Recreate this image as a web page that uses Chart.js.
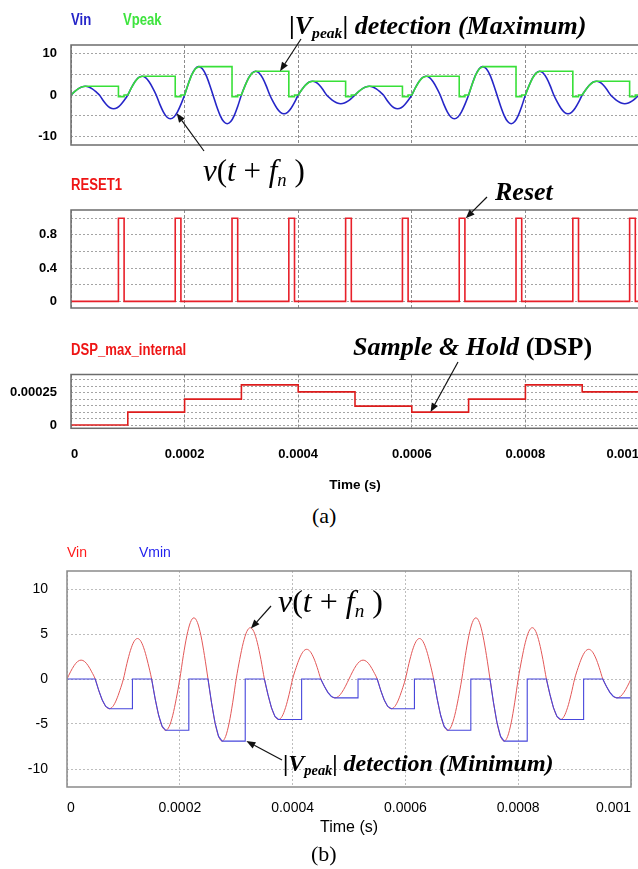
<!DOCTYPE html>
<html>
<head>
<meta charset="utf-8">
<script src="https://cdn.jsdelivr.net/npm/chart.js@4.4.1/dist/chart.umd.min.js"></script>
<style>
html, body { margin: 0; padding: 0; background: #fff; overflow: hidden; width: 638px; height: 869px; }
#page { position: relative; width: 638px; height: 869px; overflow: hidden; }
canvas { position: absolute; left: 0; }
.t { position: absolute; white-space: nowrap; line-height: 1; }
.narrow { font-family: "Liberation Sans", Arial, sans-serif; font-weight: bold; transform: scaleX(0.82); transform-origin: left center; }
.arial { font-family: "Liberation Sans", Arial, sans-serif; }
.serif { font-family: "Liberation Serif", "Times New Roman", serif; }
.ann { font-family: "Liberation Serif", "Times New Roman", serif; font-weight: bold; font-style: italic; }
.ann .up { font-style: normal; }
sub { font-size: 0.6em; vertical-align: -0.25em; }
</style>
</head>
<body>
<div id="page">
  <canvas id="cPeak" width="640" height="160" style="top:0"></canvas>
  <canvas id="cReset" width="640" height="150" style="top:160px"></canvas>
  <canvas id="cDsp" width="640" height="180" style="top:320px"></canvas>
  <canvas id="cMin" width="640" height="330" style="top:530px"></canvas>

  <div class="t narrow" style="left:71px;top:12px;font-size:16px;color:#2424c8">Vin</div>
  <div class="t narrow" style="left:123px;top:12px;font-size:16px;color:#3ee43e">Vpeak</div>
  <div class="t ann" style="left:289px;top:13px;font-size:26px"><span class="up">|</span>V<sub>peak</sub><span class="up">|</span> detection (Maximum)</div>
  <div class="t serif" style="left:203px;top:155px;font-size:31px"><i>v</i>(<i>t</i> + <i>f</i><sub><i>n</i></sub> )</div>

  <div class="t narrow" style="left:71px;top:177px;font-size:16px;color:#ee1515">RESET1</div>
  <div class="t ann" style="left:495px;top:179px;font-size:26px">Reset</div>

  <div class="t narrow" style="left:71px;top:342px;font-size:16px;color:#ee1515">DSP_max_internal</div>
  <div class="t ann" style="left:353px;top:334px;font-size:26px">Sample &amp; Hold <span class="up">(DSP)</span></div>
  <div class="t serif" style="left:312px;top:505px;font-size:22px">(a)</div>

  <div class="t arial" style="left:67px;top:545px;font-size:14px;color:#ff1a1a">Vin</div>
  <div class="t arial" style="left:139px;top:545px;font-size:14px;color:#2222ee">Vmin</div>
  <div class="t serif" style="left:278px;top:585px;font-size:32px"><i>v</i>(<i>t</i> + <i>f</i><sub><i>n</i></sub> )</div>
  <div class="t ann" style="left:283px;top:751px;font-size:24px"><span class="up">|</span>V<sub>peak</sub><span class="up">|</span> detection (Minimum)</div>
  <div class="t serif" style="left:311px;top:843px;font-size:22px">(b)</div>
</div>

<script>
// input voltage, one sample every 6.25 us (0 .. 1 ms)
const sampleStepUs = 6.25
const vinValues = [
  0, 0.80, 1.48, 1.94, 2.10, 1.94, 1.48, 0.80,
  0, -1.26, -2.33, -3.05, -3.30, -3.05, -2.33, -1.26,
  0, 1.72, 3.18, 4.16, 4.50, 4.16, 3.18, 1.72,
  0, -2.18, -4.03, -5.27, -5.70, -5.27, -4.03, -2.18,
  0, 2.60, 4.81, 6.28, 6.80, 6.28, 4.81, 2.60,
  0, -2.64, -4.88, -6.38, -6.90, -6.38, -4.88, -2.64,
  0, 2.18, 4.03, 5.27, 5.70, 5.27, 4.03, 2.18,
  0, -1.72, -3.18, -4.16, -4.50, -4.16, -3.18, -1.72,
  0, 1.26, 2.33, 3.05, 3.30, 3.05, 2.33, 1.26,
  0, -0.80, -1.48, -1.94, -2.10, -1.94, -1.48, -0.80,
  0, 0.80, 1.48, 1.94, 2.10, 1.94, 1.48, 0.80,
  0, -1.26, -2.33, -3.05, -3.30, -3.05, -2.33, -1.26,
  0, 1.72, 3.18, 4.16, 4.50, 4.16, 3.18, 1.72,
  0, -2.18, -4.03, -5.27, -5.70, -5.27, -4.03, -2.18,
  0, 2.60, 4.81, 6.28, 6.80, 6.28, 4.81, 2.60,
  0, -2.64, -4.88, -6.38, -6.90, -6.38, -4.88, -2.64,
  0, 2.18, 4.03, 5.27, 5.70, 5.27, 4.03, 2.18,
  0, -1.72, -3.18, -4.16, -4.50, -4.16, -3.18, -1.72,
  0, 1.26, 2.33, 3.05, 3.30, 3.05, 2.33, 1.26,
  0, -0.80, -1.48, -1.94, -2.10, -1.94, -1.48, -0.80,
  0
]

// Vpeak (maximum detector)
const vpeakTimeUs = [
  0, 6.25, 12.5, 18.75, 25, 83.5, 83.5, 93.5, 93.5,
  100, 106.25, 112.5, 118.75, 125, 183.5, 183.5, 193.5, 193.5,
  200, 206.25, 212.5, 218.75, 225, 283.5, 283.5, 293.5, 293.5,
  300, 306.25, 312.5, 318.75, 325, 383.5, 383.5, 393.5, 393.5,
  400, 406.25, 412.5, 418.75, 425, 483.5, 483.5, 493.5, 493.5,
  500, 506.25, 512.5, 518.75, 525, 583.5, 583.5, 593.5, 593.5,
  600, 606.25, 612.5, 618.75, 625, 683.5, 683.5, 693.5, 693.5,
  700, 706.25, 712.5, 718.75, 725, 783.5, 783.5, 793.5, 793.5,
  800, 806.25, 812.5, 818.75, 825, 883.5, 883.5, 893.5, 893.5,
  900, 906.25, 912.5, 918.75, 925, 983.5, 983.5, 993.5, 993.5,
  1000
]
const vpeakValues = [
  0, 0.80, 1.48, 1.94, 2.10, 2.10, -0.4, -0.4, 0,
  0, 1.72, 3.18, 4.16, 4.50, 4.50, -0.4, -0.4, 0,
  0, 2.60, 4.81, 6.28, 6.80, 6.80, -0.4, -0.4, 0,
  0, 2.18, 4.03, 5.27, 5.70, 5.70, -0.4, -0.4, 0,
  0, 1.26, 2.33, 3.05, 3.30, 3.30, -0.4, -0.4, 0,
  0, 0.80, 1.48, 1.94, 2.10, 2.10, -0.4, -0.4, 0,
  0, 1.72, 3.18, 4.16, 4.50, 4.50, -0.4, -0.4, 0,
  0, 2.60, 4.81, 6.28, 6.80, 6.80, -0.4, -0.4, 0,
  0, 2.18, 4.03, 5.27, 5.70, 5.70, -0.4, -0.4, 0,
  0, 1.26, 2.33, 3.05, 3.30, 3.30, -0.4, -0.4, 0,
  0
]

// RESET1 pulses
const resetRiseUs = [83.5, 183.5, 283.5, 383.5, 483.5, 583.5, 683.5, 783.5, 883.5, 983.5]
const resetFallUs = [93.5, 193.5, 293.5, 393.5, 493.5, 593.5, 693.5, 793.5, 893.5, 993.5]
const resetHigh = 1
const resetLow = 0

// DSP sample & hold
const dspTimeUs = [0, 100, 200, 300, 400, 500, 600, 700, 800, 900, 1000]
const dspValues = [0, 0.0001, 0.0002, 0.00031, 0.000256, 0.000146, 0.0001, 0.0002, 0.00031, 0.000256, 0.000256]

// Vmin (minimum detector), panel (b)
const vminTimeUs = [
  0, 50, 56.25, 62.5, 68.75, 75, 116, 116,
  150, 156.25, 162.5, 168.75, 175, 216, 216,
  250, 256.25, 262.5, 268.75, 275, 316, 316,
  350, 356.25, 362.5, 368.75, 375, 416, 416,
  450, 456.25, 462.5, 468.75, 475, 516, 516,
  550, 556.25, 562.5, 568.75, 575, 616, 616,
  650, 656.25, 662.5, 668.75, 675, 716, 716,
  750, 756.25, 762.5, 768.75, 775, 816, 816,
  850, 856.25, 862.5, 868.75, 875, 916, 916,
  950, 956.25, 962.5, 968.75, 975, 1000
]
const vminValues = [
  0, 0, -1.26, -2.33, -3.05, -3.30, -3.30, 0,
  0, -2.18, -4.03, -5.27, -5.70, -5.70, 0,
  0, -2.64, -4.88, -6.38, -6.90, -6.90, 0,
  0, -1.72, -3.18, -4.16, -4.50, -4.50, 0,
  0, -0.80, -1.48, -1.94, -2.10, -2.10, 0,
  0, -1.26, -2.33, -3.05, -3.30, -3.30, 0,
  0, -2.18, -4.03, -5.27, -5.70, -5.70, 0,
  0, -2.64, -4.88, -6.38, -6.90, -6.90, 0,
  0, -1.72, -3.18, -4.16, -4.50, -4.50, 0,
  0, -0.80, -1.48, -1.94, -2.10, -2.10
]

const xTickValues = [0, 0.0002, 0.0004, 0.0006, 0.0008, 0.001]
const xTickLabels = ['0', '0.0002', '0.0004', '0.0006', '0.0008', '0.001']
const voltTicks = [-10, -5, 0, 5, 10]
const voltLabelsA = ['-10', '', '0', '', '10']
const voltLabelsB = ['-10', '-5', '0', '5', '10']
const resetTicks = [0, 0.2, 0.4, 0.6, 0.8, 1]
const resetLabels = ['0', '', '0.4', '', '0.8', '']
const dspTicks = [0, 0.00005, 0.0001, 0.00015, 0.0002, 0.00025, 0.0003, 0.00035]
const dspLabels = ['0', '', '', '', '', '0.00025', '', '']

const ARIAL = '"Liberation Sans", Arial, sans-serif'

const us = t => t * 1e-6
const toPoints = (times, values) => times.map((t, i) => ({ x: us(t), y: values[i] }))

const vinPoints = vinValues.map((v, i) => ({ x: us(i * sampleStepUs), y: v }))
const vpeakPoints = toPoints(vpeakTimeUs, vpeakValues)
const vminPoints = toPoints(vminTimeUs, vminValues)
const dspPoints = toPoints(dspTimeUs, dspValues)
let resetPoints = [{ x: 0, y: resetLow }]
resetRiseUs.forEach((r, i) => {
  resetPoints.push({ x: us(r), y: resetLow }, { x: us(r), y: resetHigh },
    { x: us(resetFallUs[i]), y: resetHigh }, { x: us(resetFallUs[i]), y: resetLow })
})
resetPoints.push({ x: us(1000), y: resetLow })

// box around the plot area
const framePlugin = (color, width) => ({
  id: 'frame',
  afterDatasetsDraw(chart) {
    const a = chart.chartArea, c = chart.ctx
    c.save()
    c.strokeStyle = color
    c.lineWidth = width
    c.strokeRect(a.left, a.top, a.right - a.left, a.bottom - a.top)
    c.restore()
  }
})

// annotation arrows: tail in page pixels, head on a data point
const arrowPlugin = (list, canvasTop) => ({
  id: 'arrows',
  afterDraw(chart) {
    const c = chart.ctx, xs = chart.scales.x, ys = chart.scales.y
    c.save()
    c.strokeStyle = '#111'
    c.fillStyle = '#111'
    c.lineWidth = 1.2
    list.forEach(a => {
      const x1 = a.from[0], y1 = a.from[1] - canvasTop
      const x2 = xs.getPixelForValue(a.to[0]), y2 = ys.getPixelForValue(a.to[1])
      const ang = Math.atan2(y2 - y1, x2 - x1)
      const hl = 9, hw = 3.5
      const bx = x2 - hl * Math.cos(ang), by = y2 - hl * Math.sin(ang)
      c.beginPath()
      c.moveTo(x1, y1)
      c.lineTo(bx, by)
      c.stroke()
      c.beginPath()
      c.moveTo(x2, y2)
      c.lineTo(bx + hw * Math.sin(ang), by - hw * Math.cos(ang))
      c.lineTo(bx - hw * Math.sin(ang), by + hw * Math.cos(ang))
      c.closePath()
      c.fill()
    })
    c.restore()
  }
})

const makeChart = (id, canvasTop, datasets, o) => {
  const ctx = document.getElementById(id).getContext('2d')
  return new Chart(ctx, {
    type: 'line',
    data: { datasets: datasets },
    plugins: [framePlugin(o.frameColor, 1.5), arrowPlugin(o.arrows, canvasTop)],
    options: {
      responsive: false,
      animation: false,
      events: [],
      layout: { padding: o.padding },
      elements: { point: { radius: 0 } },
      plugins: { legend: { display: false }, tooltip: { enabled: false } },
      scales: {
        x: {
          type: 'linear', min: 0, max: 0.001,
          afterBuildTicks: s => { s.ticks = xTickValues.map(v => ({ value: v })) },
          afterFit: s => { s.height = o.xHeight; s.paddingLeft = 0; s.paddingRight = 0 },
          grid: { color: o.gridX, drawTicks: false, lineWidth: 1 },
          border: { display: false, dash: o.dashX },
          ticks: {
            display: o.xLabels, padding: o.xPad, color: '#000', font: o.xFont,
            maxRotation: 0, autoSkip: false, align: 'inner',
            callback: (v, i) => xTickLabels[i]
          },
          title: {
            display: o.xLabels, text: 'Time (s)', color: '#000', font: o.titleFont,
            padding: { top: 0, bottom: o.titlePad }
          }
        },
        y: {
          type: 'linear', min: o.yMin, max: o.yMax,
          afterBuildTicks: s => { s.ticks = o.yTicks.map(v => ({ value: v })) },
          afterFit: s => { s.width = o.yWidth; s.paddingTop = 0; s.paddingBottom = 0 },
          grid: { color: o.gridY, drawTicks: false, lineWidth: 1 },
          border: { display: false, dash: o.dashY },
          ticks: { padding: o.yPad, color: '#000', font: o.yFont, autoSkip: false, callback: (v, i) => o.yLabels[i] }
        }
      }
    }
  })
}

const panelA = {
  frameColor: '#6c6c6c', gridX: '#8c8c8c', gridY: '#a4a4a4', dashX: [3, 2], dashY: [2, 2],
  yWidth: 71, yPad: 14, yFont: { family: ARIAL, size: 13, weight: 'bold' },
  xFont: { family: ARIAL, size: 13, weight: 'bold' },
  titleFont: { family: ARIAL, size: 13.5, weight: 'bold' }
}

makeChart('cPeak', 0, [
  { data: vpeakPoints, borderColor: '#38e038', borderWidth: 1.6, tension: 0 },
  { data: vinPoints, borderColor: '#2626c8', borderWidth: 1.6, cubicInterpolationMode: 'monotone' }
], Object.assign({}, panelA, {
  padding: { top: 45, right: 1, bottom: 0, left: 0 }, xHeight: 15, xLabels: false,
  yMin: -12, yMax: 12, yTicks: voltTicks, yLabels: voltLabelsA,
  arrows: [{ from: [301, 39], to: [0.000368, 5.7] }, { from: [204, 151], to: [0.000186, -4.4] }]
}))

makeChart('cReset', 160, [
  { data: resetPoints, borderColor: '#e8202a', borderWidth: 1.6, tension: 0 }
], Object.assign({}, panelA, {
  padding: { top: 50, right: 1, bottom: 0, left: 0 }, xHeight: 2, xLabels: false,
  yMin: -0.08, yMax: 1.1, yTicks: resetTicks, yLabels: resetLabels,
  arrows: [{ from: [487, 197], to: [0.000695, 1] }]
}))

makeChart('cDsp', 320, [
  { data: dspPoints, borderColor: '#dd1c1c', borderWidth: 1.6, stepped: 'before' }
], Object.assign({}, panelA, {
  padding: { top: 54.5, right: 1, bottom: 0, left: 0 }, xHeight: 71.7, xLabels: true,
  xPad: 18.5, titlePad: 7,
  yMin: -0.000025, yMax: 0.00039, yTicks: dspTicks, yLabels: dspLabels,
  arrows: [{ from: [458, 362], to: [0.000633, 0.0001] }]
}))

makeChart('cMin', 530, [
  { data: vminPoints, borderColor: '#4646dc', borderWidth: 1.1, tension: 0 },
  { data: vinPoints, borderColor: '#e35858', borderWidth: 1, cubicInterpolationMode: 'monotone' }
], {
  frameColor: '#8a8a8a', gridX: '#bdbdbd', gridY: '#bdbdbd', dashX: [2, 2], dashY: [2, 2],
  padding: { top: 41, right: 9, bottom: 0, left: 0 }, xHeight: 73, xLabels: true,
  xPad: 12.6, titlePad: 22.4,
  xFont: { family: ARIAL, size: 14 }, titleFont: { family: ARIAL, size: 16 },
  yWidth: 67, yPad: 19, yFont: { family: ARIAL, size: 14 },
  yMin: -12, yMax: 12, yTicks: voltTicks, yLabels: voltLabelsB,
  arrows: [{ from: [271, 606], to: [0.000326, 5.6] }, { from: [282, 760], to: [0.000318, -6.9] }]
})
</script>
</body>
</html>
